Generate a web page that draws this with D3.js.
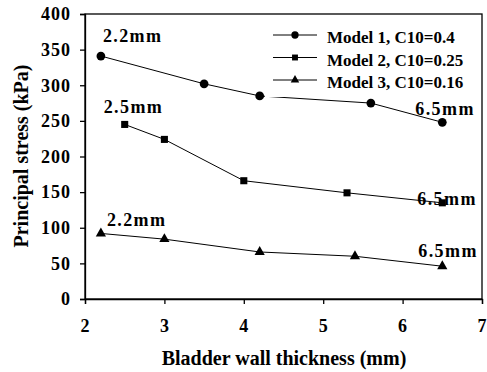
<!DOCTYPE html>
<html>
<head>
<meta charset="utf-8">
<style>
  body { margin: 0; background: #fff; }
  text { font-family: "Liberation Serif", "Times New Roman", serif; font-weight: bold; fill: #000; }
</style>
</head>
<body>
<div id="chart"></div>
<script src="https://d3js.org/d3.v7.min.js"></script>
<script>
var xTicks = [2, 3, 4, 5, 6, 7];
var yTicks = [0, 50, 100, 150, 200, 250, 300, 350, 400];
var seriesNames = ["Model 1, C10=0.4", "Model 2, C10=0.25", "Model 3, C10=0.16"];
var model1 = [[2.2, 341], [3.5, 302], [4.2, 285], [5.6, 275], [6.5, 248]];
var model2 = [[2.5, 245], [3.0, 224], [4.0, 166], [5.3, 149], [6.5, 135]];
var model3 = [[2.2, 92], [3.0, 84], [4.2, 66], [5.4, 60], [6.5, 46]];
var labels = [
  {t: "2.2mm", x: 2.2, y: 341, dx: 2, dy: -14},
  {t: "6.5mm", x: 6.5, y: 248, dx: -27, dy: -7},
  {t: "2.5mm", x: 2.5, y: 245, dx: -21, dy: -11},
  {t: "6.5mm", x: 6.5, y: 135, dx: -25, dy: 2},
  {t: "2.2mm", x: 2.2, y: 92, dx: 6, dy: -7},
  {t: "6.5mm", x: 6.5, y: 46, dx: -24, dy: -9.5}
];

var W = 487, H = 372;
var m = {left: 85, top: 14, right: 5, bottom: 73};
var svg = d3.select("#chart").append("svg").attr("width", W).attr("height", H);

var x = d3.scaleLinear().domain([2, 7]).range([m.left, W - m.right]);
var y = d3.scaleLinear().domain([0, 400]).range([H - m.bottom, m.top]);

// frame
svg.append("rect")
  .attr("x", x(2)).attr("y", y(400))
  .attr("width", x(7) - x(2)).attr("height", y(0) - y(400))
  .attr("fill", "none").attr("stroke", "#000").attr("stroke-width", 1.3);

var xa = svg.append("g").attr("transform", "translate(0," + y(0) + ")")
  .call(d3.axisBottom(x).tickValues(xTicks).tickSize(5).tickPadding(15).tickFormat(d3.format("d")));
var ya = svg.append("g").attr("transform", "translate(" + x(2) + ",0)")
  .call(d3.axisLeft(y).tickValues(yTicks).tickSize(5).tickPadding(9));
[xa, ya].forEach(function (a) {
  a.selectAll("path,line").attr("stroke", "#000").attr("stroke-width", 1.3);
  a.selectAll("text").style("font-size", "18px").style("letter-spacing", "1px")
    .style("font-family", "Liberation Serif").style("font-weight", "bold");
});

var line = d3.line().x(function (d) { return x(d[0]); }).y(function (d) { return y(d[1]); });
var all = [model1, model2, model3];
var shapes = [d3.symbolCircle, d3.symbolSquare, d3.symbolTriangle];
var sizes = [60, 50, 45];

all.forEach(function (data, i) {
  svg.append("path").datum(data).attr("d", line)
    .attr("fill", "none").attr("stroke", "#000").attr("stroke-width", 1);
});

// legend box hides part of the line
svg.append("rect").attr("x", 265).attr("y", 20).attr("width", 214).attr("height", 77).attr("fill", "#fff");

all.forEach(function (data, i) {
  svg.selectAll(".m" + i).data(data).enter().append("path")
    .attr("transform", function (d) { return "translate(" + x(d[0]) + "," + y(d[1]) + ")"; })
    .attr("d", d3.symbol().type(shapes[i]).size(sizes[i]))
    .attr("fill", "#000");
});

labels.forEach(function (l) {
  svg.append("text")
    .attr("x", x(l.x) + l.dx).attr("y", y(l.y) + l.dy)
    .style("font-size", "18px").style("letter-spacing", "1.4px").text(l.t);
});

seriesNames.forEach(function (n, i) {
  var ly = 35 + i * 22.5;
  svg.append("line").attr("x1", 273).attr("x2", 317).attr("y1", ly).attr("y2", ly)
    .attr("stroke", "#000").attr("stroke-width", 1);
  svg.append("path").attr("transform", "translate(295," + ly + ")")
    .attr("d", d3.symbol().type(shapes[i]).size(sizes[i] * 0.7)).attr("fill", "#000");
  svg.append("text").attr("x", 327).attr("y", ly + 8).style("font-size", "17px").text(n);
});

svg.append("text").attr("x", 284).attr("y", 365).attr("text-anchor", "middle")
  .style("font-size", "20px").text("Bladder wall thickness (mm)");
svg.append("text").attr("transform", "translate(28," + 156 + ") rotate(-90)")
  .attr("text-anchor", "middle").style("font-size", "20px").text("Principal stress (kPa)");
</script>
</body>
</html>
